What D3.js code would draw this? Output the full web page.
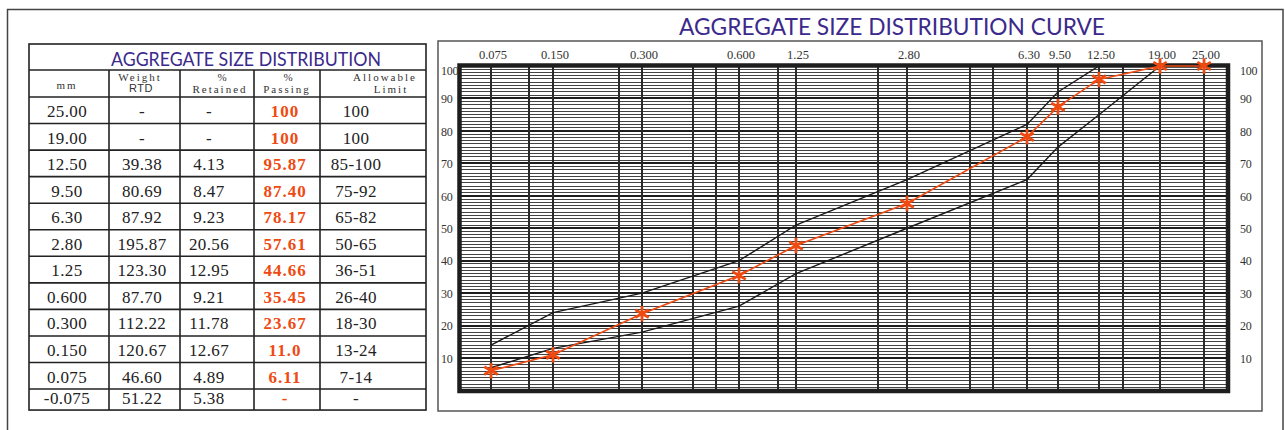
<!DOCTYPE html>
<html>
<head>
<meta charset="utf-8">
<script src="https://cdn.jsdelivr.net/npm/d3@7"></script>
<style>
  html, body { margin: 0; padding: 0; background: #fff; }
  svg { display: block; }
</style>
</head>
<body>
<svg id="sheet" width="1285" height="430"></svg>
<script>
// ---- Grading data ----
const sieveMM        = ["25.00", "19.00", "12.50", "9.50", "6.30", "2.80", "1.25", "0.600", "0.300", "0.150", "0.075", "-0.075"];
const weightRetained = ["-", "-", "39.38", "80.69", "87.92", "195.87", "123.30", "87.70", "112.22", "120.67", "46.60", "51.22"];
const pctRetained    = ["-", "-", "4.13", "8.47", "9.23", "20.56", "12.95", "9.21", "11.78", "12.67", "4.89", "5.38"];
const pctPassing     = ["100", "100", "95.87", "87.40", "78.17", "57.61", "44.66", "35.45", "23.67", "11.0", "6.11", "-"];
const allowableLimit = ["100", "100", "85-100", "75-92", "65-82", "50-65", "36-51", "26-40", "18-30", "13-24", "7-14", "-"];
const yTicks = [10, 20, 30, 40, 50, 60, 70, 80, 90, 100];

// ---- Layout ----
const svg = d3.select("#sheet");
const purple = "#3b2a8c";
const orange = "#ee4a12";
const ink = "#222";
const serif = "'Liberation Serif', 'Times New Roman', serif";
const gothic = "Lato, 'Noto Sans', sans-serif";

// Outer sheet border
svg.append("rect").attr("x", 7.5).attr("y", 9.5).attr("width", 1275.5).attr("height", 440)
  .attr("fill", "none").attr("stroke", "#444").attr("stroke-width", 1.5);

// ================= TABLE =================
const tbl = { x0: 29, x1: 426, yTop: 44, yTitle: 70, yHead: 97, rowH: 26.55, lastH: 21 };
const colEdges = [29, 109, 180, 254, 320, 426];
const colCenters = [67, 142, 209, 285, 356];

const rowEdges = [tbl.yHead];
for (let i = 0; i < sieveMM.length; i++) {
  rowEdges.push(rowEdges[i] + (i === sieveMM.length - 1 ? tbl.lastH : tbl.rowH));
}
const tBottom = rowEdges[rowEdges.length - 1];

const tg = svg.append("g");
tg.append("rect").attr("x", tbl.x0).attr("y", tbl.yTop)
  .attr("width", tbl.x1 - tbl.x0).attr("height", tBottom - tbl.yTop)
  .attr("fill", "none").attr("stroke", ink).attr("stroke-width", 1.6);
// horizontal rules
tg.selectAll("line.hr").data([tbl.yTitle].concat(rowEdges.slice(0, -1))).join("line")
  .attr("x1", tbl.x0).attr("x2", tbl.x1).attr("y1", d => d).attr("y2", d => d)
  .attr("stroke", ink).attr("stroke-width", 1.6);
// column rules
tg.selectAll("line.vr").data(colEdges.slice(1, -1)).join("line")
  .attr("x1", d => d).attr("x2", d => d).attr("y1", tbl.yTitle).attr("y2", tBottom)
  .attr("stroke", ink).attr("stroke-width", 1.6);

// table title
tg.append("text").attr("x", 111).attr("y", 66)
  .attr("textLength", 270).attr("lengthAdjust", "spacingAndGlyphs")
  .attr("font-family", gothic).attr("font-size", 18.5).attr("fill", purple)
  .text("AGGREGATE SIZE DISTRIBUTION");

// column headers
const head = [
  { t: "mm", x: 67, y: 89 },
  { t: "Weight", x: 140, y: 81 },
  { t: "RTD", x: 141, y: 92, sans: true },
  { t: "%", x: 223, y: 81 },
  { t: "Retained", x: 220, y: 93 },
  { t: "%", x: 289, y: 81 },
  { t: "Passing", x: 287, y: 93 },
  { t: "Allowable", x: 385, y: 81 },
  { t: "Limit", x: 391, y: 93 }
];
tg.selectAll("text.head").data(head).join("text")
  .attr("x", d => d.x).attr("y", d => d.y).attr("text-anchor", "middle")
  .attr("font-family", d => d.sans ? "'Liberation Sans', Arial, sans-serif" : serif)
  .attr("font-size", 11).attr("letter-spacing", d => d.sans ? 0.5 : 2)
  .attr("fill", "#333").text(d => d.t);

// body cells
const cols = [sieveMM, weightRetained, pctRetained, pctPassing, allowableLimit];
cols.forEach((col, ci) => {
  tg.selectAll("text.c" + ci).data(col).join("text")
    .attr("x", colCenters[ci])
    .attr("y", (d, i) => rowEdges[i + 1] - 6.5)
    .attr("text-anchor", "middle")
    .attr("font-family", serif)
    .attr("font-size", 17)
    .attr("font-weight", ci === 3 ? "bold" : "normal")
    .attr("letter-spacing", ci === 3 ? 1 : 0.4)
    .attr("fill", ci === 3 ? orange : "#222")
    .text(d => d);
});

// ================= CURVE =================
svg.append("rect").attr("x", 438).attr("y", 41).attr("width", 824).attr("height", 370)
  .attr("fill", "none").attr("stroke", "#555").attr("stroke-width", 1.5);

svg.append("text").attr("x", 679).attr("y", 35)
  .attr("textLength", 426).attr("lengthAdjust", "spacingAndGlyphs")
  .attr("font-family", gothic).attr("font-size", 24).attr("fill", purple)
  .text("AGGREGATE SIZE DISTRIBUTION CURVE");

const plot = { x0: 460, x1: 1228, yTop: 65.5, yBot: 391 };

// grading paper: irregular sieve spacing, expressed as fractions of the plot width
const sieveFrac = [0.0404, 0.1211, 0.2370, 0.3633, 0.4375, 0.5820, 0.7383, 0.7786, 0.8320, 0.9115, 0.9688];
const paperFrac = [0.0898, 0.2070, 0.3034, 0.3333, 0.4141, 0.5443, 0.6641, 0.6940, 0.8633];
const paper = d3.scaleLinear().domain([0, 1]).range([plot.x0, plot.x1]);

// chart rows (pan row has no sieve size)
const chartRows = sieveMM.map((s, i) => ({
  label: s, size: +s,
  passing: parseFloat(pctPassing[i]),
  lo: allowableLimit[i] === "-" ? NaN : +allowableLimit[i].split("-")[0],
  hi: allowableLimit[i] === "-" ? NaN : +allowableLimit[i].split("-").slice(-1)[0]
})).filter(d => d.size > 0).reverse();

const x = d3.scaleLinear()
  .domain(chartRows.map(d => d.size))
  .range(sieveFrac.map(paper));
const y = d3.scaleLinear().domain([0, 100]).range([390.5, 66]);

const pg = svg.append("g");
// horizontal rulings every 1 %
pg.selectAll("line.h").data(d3.range(1, 100)).join("line")
  .attr("x1", plot.x0).attr("x2", plot.x1)
  .attr("y1", d => y(d)).attr("y2", d => y(d))
  .attr("shape-rendering", "crispEdges")
  .attr("stroke", d => d % 10 === 0 ? "#1e1e1e" : "#444")
  .attr("stroke-width", d => d % 10 === 0 ? 2 : 1);
// vertical rulings
pg.selectAll("line.vp").data(paperFrac).join("line")
  .attr("x1", d => paper(d)).attr("x2", d => paper(d))
  .attr("y1", plot.yTop).attr("y2", plot.yBot)
  .attr("shape-rendering", "crispEdges")
  .attr("stroke", "#2a2a2a").attr("stroke-width", 2);
pg.selectAll("line.vs").data(chartRows).join("line")
  .attr("x1", d => x(d.size)).attr("x2", d => x(d.size))
  .attr("y1", plot.yTop).attr("y2", plot.yBot)
  .attr("shape-rendering", "crispEdges")
  .attr("stroke", "#2a2a2a").attr("stroke-width", 2);

// envelope of allowable limits
const limLine = key => d3.line().x(d => x(d.size)).y(d => y(d[key]));
pg.append("path").datum(chartRows).attr("d", limLine("hi"))
  .attr("fill", "none").attr("stroke", "#1a1a1a").attr("stroke-width", 1.4);
pg.append("path").datum(chartRows).attr("d", limLine("lo"))
  .attr("fill", "none").attr("stroke", "#1a1a1a").attr("stroke-width", 1.4);

// heavy plot frame
pg.append("rect").attr("x", 459.5).attr("y", plot.yTop)
  .attr("width", plot.x1 - 459.5).attr("height", plot.yBot - plot.yTop)
  .attr("fill", "none").attr("stroke", "#1e1e1e").attr("stroke-width", 4.5);

// sieve labels along the top
pg.selectAll("text.top").data(chartRows).join("text")
  .attr("x", d => x(d.size) + 2).attr("y", 59)
  .attr("text-anchor", "middle").attr("font-family", serif).attr("font-size", 12.5)
  .attr("fill", "#333").text(d => d.label);

// percent labels both sides
[441, 1240].forEach(lx => {
  pg.selectAll("text.y" + lx).data(yTicks).join("text")
    .attr("x", lx).attr("y", d => Math.max(y(d) + 2, 72))
    .attr("dominant-baseline", "middle")
    .attr("font-family", serif).attr("font-size", 12).attr("letter-spacing", -0.3)
    .attr("fill", "#333").text(d => d);
});

// passing curve
pg.append("path").datum(chartRows)
  .attr("d", d3.line().x(d => x(d.size)).y(d => y(d.passing)))
  .attr("fill", "none").attr("stroke", orange).attr("stroke-width", 1.6);
pg.selectAll("path.star").data(chartRows).join("path")
  .attr("transform", d => `translate(${x(d.size)},${y(d.passing)})`)
  .attr("d", d3.symbol(d3.symbolAsterisk, 170))
  .attr("fill", "none").attr("stroke", orange).attr("stroke-width", 2.8);
</script>
</body>
</html>
